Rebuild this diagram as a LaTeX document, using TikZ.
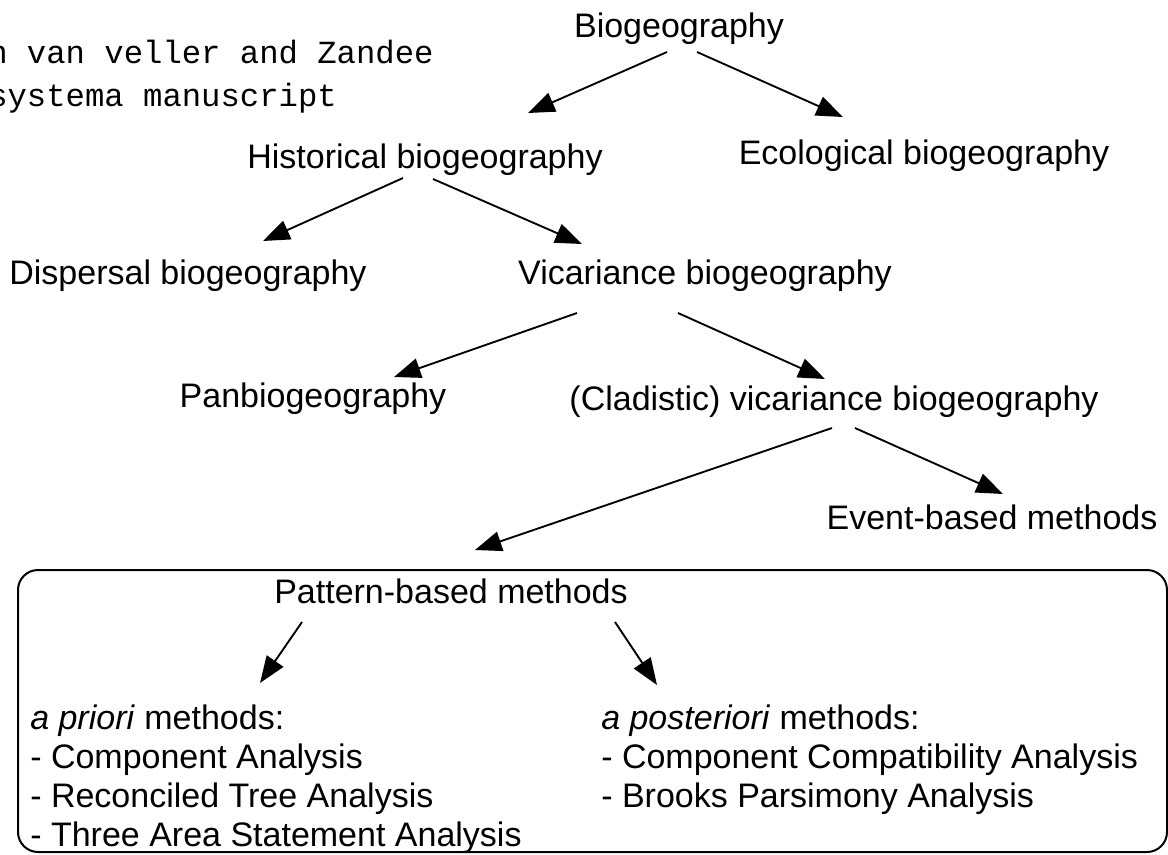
\documentclass[tikz,border=0pt]{standalone}
\usepackage{fontspec}
\setmainfont{Liberation Sans}
\setmonofont{Liberation Mono}
\usetikzlibrary{arrows.meta,calc}
\tikzset{
  lbl/.style={font=\fontsize{25.5}{30}\selectfont, inner sep=0pt, anchor=base},
  lst/.style={font=\fontsize{25.5}{30}\selectfont, inner sep=0pt, anchor=base west},
  mono/.style={font=\ttfamily\fontsize{24.2}{30}\selectfont, inner sep=0pt, anchor=base west},
  arr/.style={line width=1.4pt, -{Triangle[length=20pt,width=15pt]}},
  frame/.style={line width=1.5pt, rounded corners=15pt}
}
\begin{document}
\begin{tikzpicture}[x=0.75pt,y=-0.75pt]
\useasboundingbox (0,0) rectangle (1168,854);
% header text (cropped at the left edge, as in the reference)
\node[mono] (h1) at (-12,63) {n van veller and Zandee};
\node[mono] (h2) at (-12,106) {systema manuscript};
% nodes
\node[lbl] (bio)   at (679,37)  {Biogeography};
\node[lbl] (hist)  at (425,168) {Historical biogeography};
\node[lbl] (eco)   at (924,164) {Ecological biogeography};
\node[lbl] (disp)  at (188,284) {Dispersal biogeography};
\node[lbl] (vic)   at (705,284) {Vicariance biogeography};
\node[lbl] (pan)   at (313,407) {Panbiogeography};
\node[lbl] (clad)  at (834,410) {(Cladistic) vicariance biogeography};
\node[lbl] (event) at (992,529) {Event-based methods};
\node[lbl] (pat)   at (451,603) {Pattern-based methods};
% frame
\draw[frame] (18,570) rectangle (1167,852);
% lists
\node[lst] (apri)  at (30,729) {\textit{a priori} methods:};
\node[lst] (apri1) at (30,768) {- Component Analysis};
\node[lst] (apri2) at (30,807) {- Reconciled Tree Analysis};
\node[lst] (apri3) at (30,846) {- Three Area Statement Analysis};
\node[lst] (apost)  at (601,729) {\textit{a posteriori} methods:};
\node[lst] (apost1) at (601,768) {- Component Compatibility Analysis};
\node[lst] (apost2) at (601,807) {- Brooks Parsimony Analysis};
% connectors
\draw[arr] ($(bio.base)+(-12,15)$) -- ($(hist.base)+(103,-55)$);
\draw[arr] ($(bio.base)+(18,15)$) -- ($(eco.base)+(-81,-47)$);
\draw[arr] ($(hist.base)+(-22,10)$) -- ($(disp.base)+(75,-43)$);
\draw[arr] ($(hist.base)+(8,11)$) -- ($(vic.base)+(-123,-40)$);
\draw[arr] ($(vic.base)+(-128,29)$) -- ($(pan.base)+(81,-30)$);
\draw[arr] ($(vic.base)+(-27,29)$) -- ($(clad.base)+(-9,-31)$);
\draw[arr] ($(clad.base)+(-2,18)$) -- ($(pat.base)+(24,-53)$);
\draw[arr] ($(clad.base)+(21,18)$) -- ($(event.base)+(11,-35)$);
\draw[arr] ($(pat.base)+(-149,19)$) -- ($(apri.base west)+(230,-46)$);
\draw[arr] ($(pat.base)+(164,19)$) -- ($(apost.base west)+(56,-44)$);
\end{tikzpicture}
\end{document}
